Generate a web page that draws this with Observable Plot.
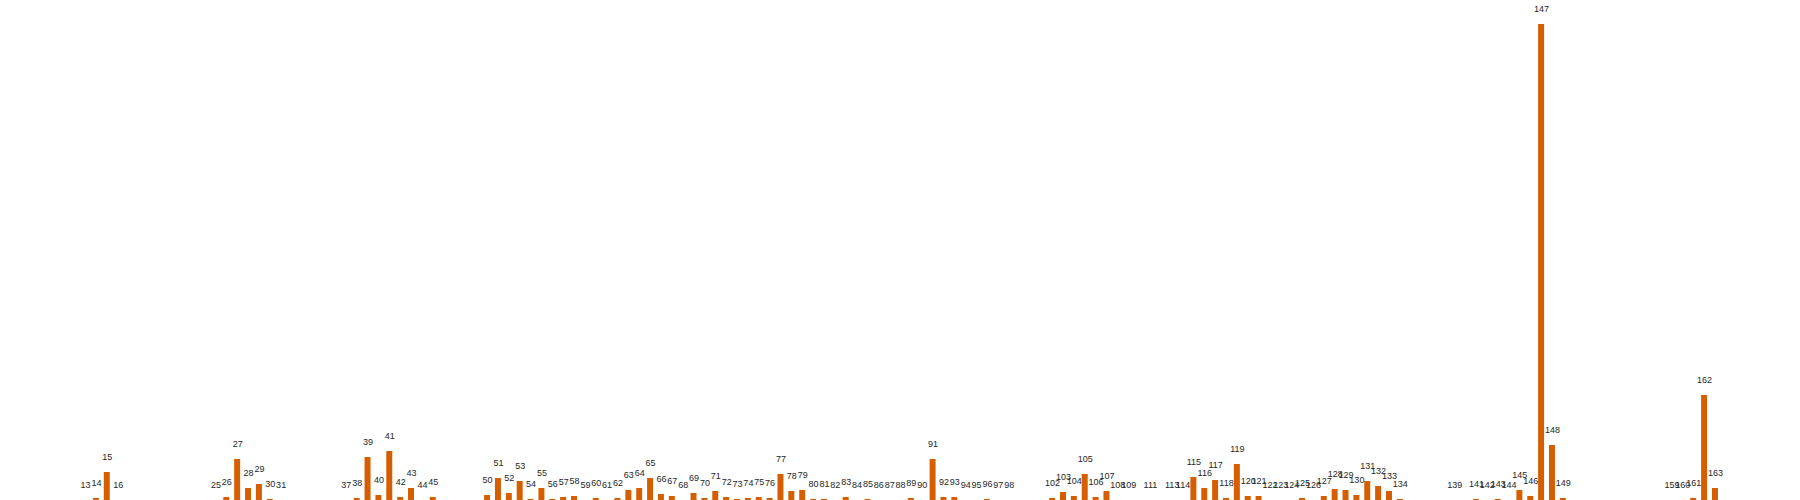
<!DOCTYPE html>
<html>
<head>
<meta charset="utf-8">
<script src="https://cdn.jsdelivr.net/npm/d3@7"></script>
<script src="https://cdn.jsdelivr.net/npm/@observablehq/plot@0.6"></script>
<style>
  html, body { margin: 0; padding: 0; background: #fff; }
  #chart svg { display: block; }
</style>
</head>
<body>
<div id="chart"></div>
<script>
const ids = [13,14,15,16,25,26,27,28,29,30,31,37,38,39,40,41,42,43,44,45,
  50,51,52,53,54,55,56,57,58,59,60,61,62,63,64,65,66,67,68,69,70,71,72,73,74,75,76,77,78,79,
  80,81,82,83,84,85,86,87,88,89,90,91,92,93,94,95,96,97,98,102,103,104,105,106,107,108,109,111,113,114,
  115,116,117,118,119,120,121,122,123,124,125,126,127,128,129,130,131,132,133,134,139,141,142,143,144,
  145,146,147,148,149,159,160,161,162,163];
const values = [0,2,28,0,0,3,41,12,16,1,0,0,2,43,5,49,3,12,0,3,
  5,22,7,19,1,12,1,3,4,0,2,0,2,10,12,22,6,4,0,7,2,9,3,1,2,3,2,26,9,10,
  1,1,0,3,0,1,0,0,0,2,0,41,3,3,0,0,1,0,0,2,8,4,26,3,9,0,0,0,0,0,
  23,12,20,2,36,4,4,0,0,0,2,0,4,11,10,5,19,14,9,1,0,1,0,1,0,
  10,4,476,55,2,0,0,2,105,12];
const xDomain = d3.range(6, 171);

const data = ids.map((id, i) => ({id, value: values[i]}));

const chart = Plot.plot({
  width: 1800,
  height: 500,
  marginTop: 24,
  marginBottom: 0,
  marginLeft: 0,
  marginRight: 0,
  x: {type: "band", domain: xDomain, paddingInner: 0.45, paddingOuter: 0.55, axis: null},
  y: {domain: [0, 476], axis: null},
  style: {fontFamily: "Liberation Sans, Arial, sans-serif", background: "#fff"},
  marks: [
    Plot.barY(data, {x: "id", y: "value", fill: "#D55E00"}),
    Plot.text(data, {x: "id", y: "value", text: d => String(d.id), dy: -15,
      lineAnchor: "middle", fontSize: 9, fill: "#262626"})
  ]
});
document.getElementById("chart").appendChild(chart);
</script>
</body>
</html>
